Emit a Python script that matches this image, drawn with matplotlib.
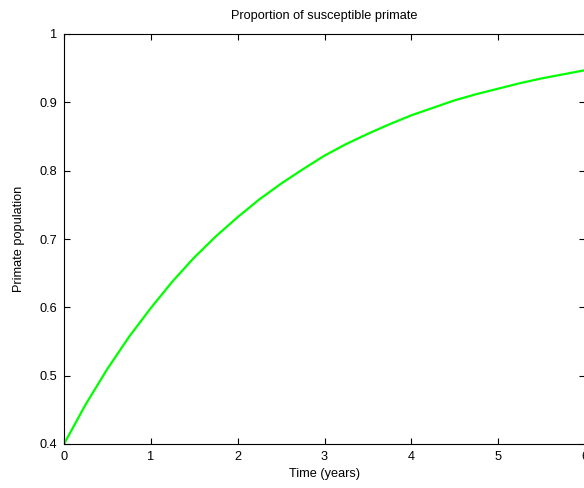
import matplotlib
matplotlib.use('Agg')
import matplotlib.pyplot as plt

# time in years and proportion of susceptible primates
t = [0, 0.25, 0.5, 0.75, 1, 1.25, 1.5, 1.75, 2, 2.25, 2.5, 2.75, 3,
     3.25, 3.5, 3.75, 4, 4.25, 4.5, 4.75, 5, 5.25, 5.5, 5.75, 6]
susceptible = [0.400, 0.458, 0.510, 0.557, 0.599, 0.638, 0.673, 0.704, 0.732,
               0.758, 0.781, 0.802, 0.822, 0.839, 0.854, 0.868, 0.881, 0.892,
               0.903, 0.912, 0.920, 0.928, 0.935, 0.941, 0.947]

xticks = [0, 1, 2, 3, 4, 5, 6]
yticks = [0.4, 0.5, 0.6, 0.7, 0.8, 0.9, 1]
ytick_labels = ['0.4', '0.5', '0.6', '0.7', '0.8', '0.9', '1']

plt.rcParams['font.family'] = ['Liberation Sans', 'DejaVu Sans']
plt.rcParams['font.size'] = 9.2

fig = plt.figure(figsize=(5.84, 4.88), dpi=100)
ax = fig.add_axes([64 / 584, 44 / 488, 521 / 584, 410 / 488])

ax.plot(t, susceptible, color=(0, 1, 0), linewidth=1.6)

ax.set_xlim(0, 6)
ax.set_ylim(0.4, 1)
ax.set_xticks(xticks)
ax.set_yticks(yticks)
ax.set_yticklabels(ytick_labels)
ax.tick_params(direction='in', top=True, right=True, length=4, width=0.8,
               labelsize=9.2, pad=5)
for s in ax.spines.values():
    s.set_linewidth(0.8)

ax.set_title('Proportion of susceptible primate', fontsize=9.2, pad=11)
ax.set_xlabel('Time (years)', fontsize=9.2, labelpad=4)
ax.set_ylabel('Primate population', fontsize=9.2, labelpad=10)

fig.savefig('out.png', dpi=100)
